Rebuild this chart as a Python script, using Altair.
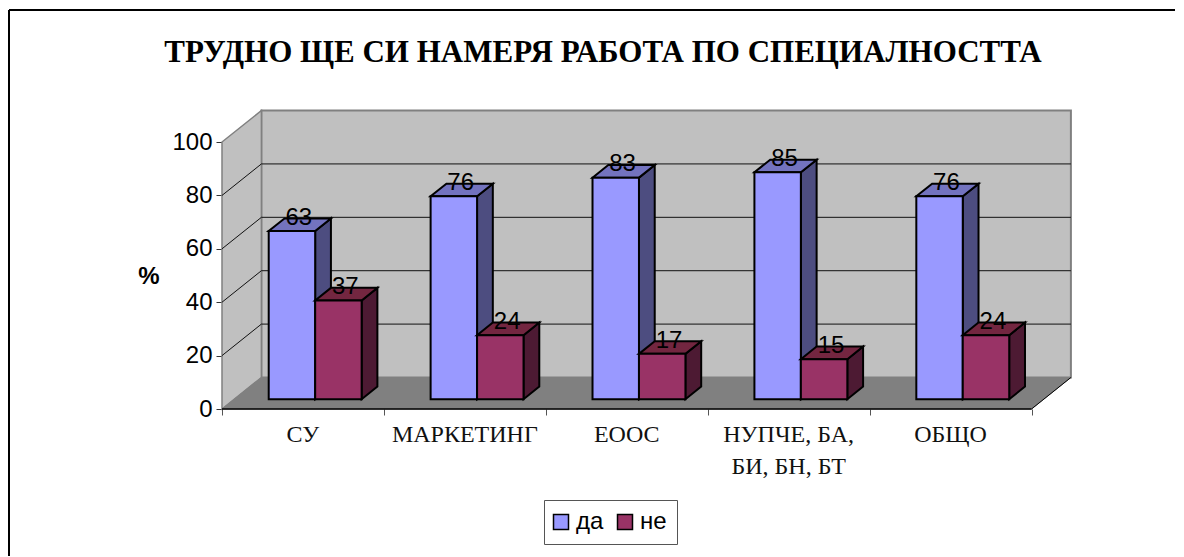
import altair as alt
import pandas as pd

categories = ["СУ", "МАРКЕТИНГ", "ЕООС", "НУПЧЕ, БА,\nБИ, БН, БТ", "ОБЩО"]
da_values = [63, 76, 83, 85, 76]
ne_values = [37, 24, 17, 15, 24]
series_names = ["да", "не"]
y_ticks = [0, 20, 40, 60, 80, 100]
title_text = "ТРУДНО ЩЕ СИ НАМЕРЯ РАБОТА ПО СПЕЦИАЛНОСТТА"
axis_title = "%"

PW, PH = 849, 299
XMAX, YMAX = 849 / 161.9, 112.0
DU, DV = 39.4 / 161.9, 11.8      # projection of the full chart depth
T0, T1 = 0.31, 0.71              # bar's depth extent
SANS, SERIF = "Liberation Sans", "Liberation Serif"

def px(u, t): return u + DU * t
def py(v, t): return v + DV * t

xs = alt.Scale(domain=[0, XMAX], nice=False, zero=False)
ys = alt.Scale(domain=[0, YMAX], nice=False, zero=False)
X = lambda f, **k: alt.X(f, type="quantitative", scale=xs, title=None, **k)
Y = lambda f, **k: alt.Y(f, type="quantitative", scale=ys, title=None, **k)

# walls and floor
back = alt.Chart(pd.DataFrame([{"x": px(0, 1), "x2": px(5, 1), "y": py(0, 1), "y2": py(100, 1)}])).mark_rect(
    fill="#C0C0C0", stroke="#808080", strokeWidth=2).encode(X("x"), x2="x2", y=Y("y"), y2="y2")
side = alt.Chart(pd.DataFrame([{"x": px(0, t), "y": py(100, t), "y2": py(0, t)} for t in (0, 1)])).mark_area(
    fill="#C0C0C0", stroke="#808080", strokeWidth=1.5).encode(X("x"), y=Y("y"), y2="y2")
floor = alt.Chart(pd.DataFrame([{"x": px(0, t), "x2": px(5, t), "y": py(0, t)} for t in (0, 1)])).mark_area(
    orient="horizontal", fill="#808080", stroke="#808080").encode(X("x"), x2="x2", y=Y("y"))

grid_back = alt.Chart(pd.DataFrame([{"x": px(0, 1), "x2": px(5, 1), "y": py(v, 1)} for v in y_ticks[1:-1]])).mark_rule(
    color="#111111", strokeWidth=1).encode(X("x"), x2="x2", y=Y("y"))
grid_side = alt.Chart(pd.DataFrame([{"x": px(0, 0), "x2": px(0, 1), "y": py(v, 0), "y2": py(v, 1)} for v in y_ticks[1:-1]])).mark_rule(
    color="#111111", strokeWidth=1).encode(X("x"), x2="x2", y=Y("y"), y2="y2")

# front and right edges of the floor
floor_front = alt.Chart(pd.DataFrame([{"x": px(0, 0), "x2": px(5, 0), "y": py(0, 0)}])).mark_rule(
    color="black", strokeWidth=1.5).encode(X("x"), x2="x2", y=Y("y"))
floor_right = alt.Chart(pd.DataFrame([{"x": px(5, 0), "x2": px(5, 1), "y": py(0, 0), "y2": py(0, 1)}])).mark_rule(
    color="black", strokeWidth=1).encode(X("x"), x2="x2", y=Y("y"), y2="y2")

# bars
def faces(values, left, right, name, side_col, top_col):
    front_rows, side_rows, top_rows = [], [], []
    for i, v in enumerate(values):
        a, b = i + left, i + right
        front_rows.append({"x": px(a, T0), "x2": px(b, T0), "y": py(0, T0), "y2": py(v, T0), "series": name})
        for t in (T0, T1):
            side_rows.append({"id": i, "x": px(b, t), "y": py(v, t), "y2": py(0, t)})
            top_rows.append({"id": i, "x": px(a, t), "x2": px(b, t), "y": py(v, t)})
    s = alt.Chart(pd.DataFrame(side_rows)).mark_area(fill=side_col, stroke="black", strokeWidth=2).encode(
        X("x"), y=Y("y"), y2="y2", detail="id:N")
    t = alt.Chart(pd.DataFrame(top_rows)).mark_area(orient="horizontal", fill=top_col, stroke="black", strokeWidth=2).encode(
        X("x"), x2="x2", y=Y("y"), detail="id:N")
    f = alt.Chart(pd.DataFrame(front_rows)).mark_bar(stroke="black", strokeWidth=2).encode(
        X("x"), x2="x2", y=Y("y"), y2="y2",
        color=alt.Color("series:N", scale=alt.Scale(domain=series_names, range=["#9999FF", "#993366"]),
                        legend=alt.Legend(orient="none", legendX=322, legendY=390, direction="horizontal", title=None,
                                          symbolType="square", symbolSize=225, symbolStrokeColor="black",
                                          symbolStrokeWidth=1.5, symbolOpacity=1, symbolOffset=-5,
                                          labelFont=SANS, labelFontSize=24, labelColor="black", labelOffset=3,
                                          strokeColor="#555555", fillColor="white", padding=10, columnPadding=10)))
    return [s, t, f]

layers_da = faces(da_values, 0.2131, 0.5, series_names[0], "#4D4D80", "#7373BF")
layers_ne = faces(ne_values, 0.5, 0.787, series_names[1], "#4D1A33", "#732640")

# data labels
lab_rows = []
for i, v in enumerate(da_values):
    lab_rows.append({"x": px(i + 0.3565, 0.51), "y": py(v, 0.51), "t": str(v)})
for i, v in enumerate(ne_values):
    lab_rows.append({"x": px(i + 0.6435, 0.51), "y": py(v, 0.51), "t": str(v)})
labels = alt.Chart(pd.DataFrame(lab_rows)).mark_text(font=SANS, fontSize=24, color="black", dx=-1, dy=-7, baseline="middle").encode(
    X("x"), y=Y("y"), text="t:N")

# category labels
cat_labels = alt.Chart(pd.DataFrame({"x": [i + 0.5 for i in range(5)], "t": categories})).mark_text(
    font=SERIF, fontSize=24, color="#111111", lineBreak="\n", lineHeight=32, baseline="top").encode(
    X("x"), y=alt.value(PH + 14), text="t:N")

# frame and free titles
frame_top = alt.Chart(pd.DataFrame({"a": [0]})).mark_rule(color="black", strokeWidth=2).encode(
    x=alt.value(-213), x2=alt.value(953), y=alt.value(-100))
frame_left = alt.Chart(pd.DataFrame({"a": [0]})).mark_rule(color="black", strokeWidth=2).encode(
    x=alt.value(-213), y=alt.value(-100), y2=alt.value(446))
title_mark = alt.Chart(pd.DataFrame({"t": [title_text]})).mark_text(
    font=SERIF, fontSize=31, fontWeight="bold", color="black", baseline="alphabetic").encode(
    x=alt.value(381), y=alt.value(-48), text="t:N")
pct_mark = alt.Chart(pd.DataFrame({"t": [axis_title]})).mark_text(
    font=SANS, fontSize=24, fontWeight="bold", color="black", baseline="middle").encode(
    x=alt.value(-73), y=alt.value(167), text="t:N")

# axes carrier
axes = alt.Chart(pd.DataFrame({"x": [0], "y": [0]})).mark_point(opacity=0).encode(
    x=alt.X("x:Q", scale=xs, title=None,
            axis=alt.Axis(values=[0, 1, 2, 3, 4, 5], labels=False, tickSize=6, tickColor="#555555", domain=False,
                          grid=False, ticks=True)),
    y=alt.Y("y:Q", scale=ys, title=None,
            axis=alt.Axis(values=y_ticks, tickSize=6, tickColor="#333333", domain=False, grid=False,
                          labelFont=SANS, labelFontSize=24, labelColor="black", labelPadding=4)),
)

chart = alt.layer(
    back, side, floor, floor_right, floor_front, grid_back, grid_side, axes,
    *layers_da, *layers_ne, labels, cat_labels, frame_top, frame_left, title_mark, pct_mark,
).resolve_scale(color="shared").properties(
    width=PW, height=PH,
    padding={"left": 0, "top": 1, "right": 0, "bottom": 0},
).configure_view(stroke=None)

chart.save("out.html", embed_options={"renderer": "svg", "actions": False})
